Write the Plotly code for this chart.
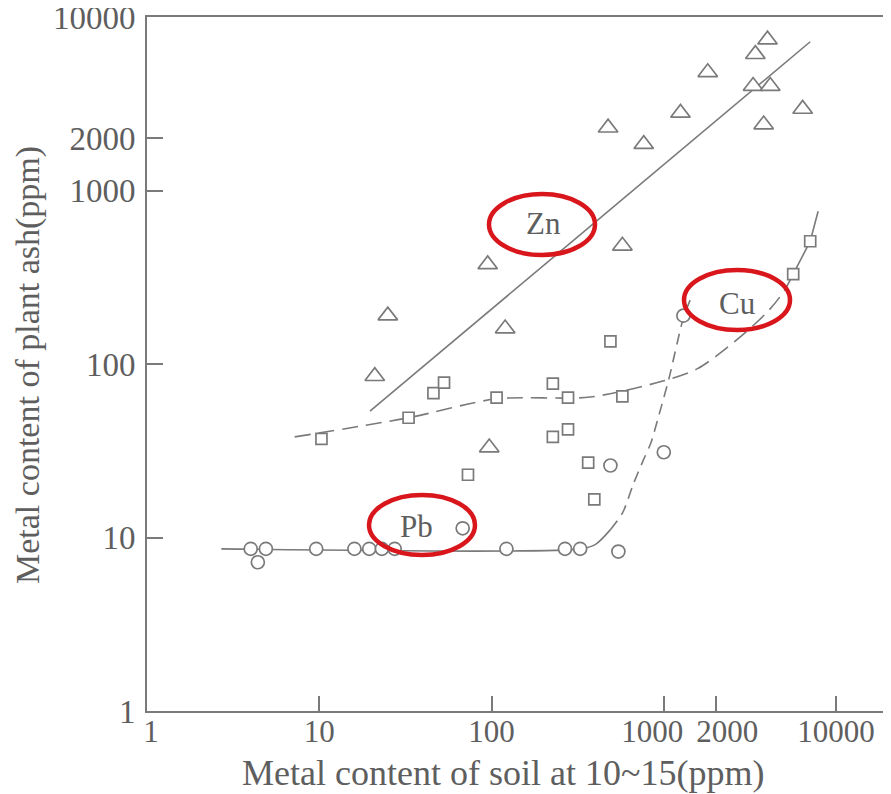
import plotly.graph_objects as go

# ---------------- data ----------------
zn_x = [21, 25, 95, 120, 97, 575, 475, 765, 1250, 1800, 3400, 4000, 3300, 4150, 3800, 6400]
zn_y = [85, 190, 375, 160, 33, 480, 2300, 1850, 2800, 4800, 6100, 7400, 4000, 4000, 2400, 2950]
zn_line_x = [19.7, 7080]
zn_line_y = [53.5, 7200]

cu_x = [10.3, 33, 46, 53, 107, 227, 278, 227, 278, 73, 364, 395, 490, 575, 5640, 7080]
cu_y = [37, 49, 68, 78, 64, 77, 64, 38, 42, 23, 27, 16.6, 135, 65, 330, 510]
cu_dash_x = [7.2, 33, 107, 374, 1000, 1570, 2680, 4000, 4950, 5640]
cu_dash_y = [38, 49, 63, 64.5, 80, 94, 139, 200, 260, 330]
cu_solid_x = [5640, 7080, 7870]
cu_solid_y = [330, 510, 760]

pb_x = [4.0, 4.9, 4.4, 9.6, 16, 19.5, 23.1, 27.4, 68, 122, 267, 327, 545, 490, 1000, 1300]
pb_y = [8.6, 8.6, 7.2, 8.6, 8.6, 8.6, 8.6, 8.6, 11.3, 8.6, 8.6, 8.6, 8.3, 26, 31, 190]
pb_solid_x = [2.7, 327, 400, 490]
pb_solid_y = [8.6, 8.6, 9.1, 11.1]
pb_dash_x = [490, 575, 668, 764, 840, 923, 1069, 1306, 1472]
pb_dash_y = [11.1, 13.8, 20.5, 28.2, 34.9, 48.1, 81.8, 187, 253]

x_tickvals = [1, 10, 100, 1000, 2000, 10000]
x_ticktext = ["1", "10", "100", "1000", "2000", "10000"]
y_tickvals = [1, 10, 100, 1000, 2000, 10000]
y_ticktext = ["1", "10", "100", "1000", "2000", "10000"]

labels = ["Zn", "Cu", "Pb"]
x_title = "Metal content of soil at 10~15(ppm)"
y_title = "Metal content of plant ash(ppm)"

# ---------------- styling ----------------
INK = "#7a7a7a"
TXT = "#5e5e5e"
RED = "#d8161c"
FONT = "Liberation Serif"
NB = "\u00a0"

# small horizontal nudges of the x tick labels, as in the printed figure
x_pad = {"1": (1, 0), "1000": (0, 3), "2000": (3, 0)}
x_ticktext_shown = [NB * x_pad.get(t, (0, 0))[0] + t + NB * x_pad.get(t, (0, 0))[1] for t in x_ticktext]

fig = go.Figure()

line_style = dict(color=INK, width=1.6)
fig.add_trace(go.Scatter(x=zn_line_x, y=zn_line_y, mode="lines", line=line_style, hoverinfo="skip"))
fig.add_trace(go.Scatter(x=cu_dash_x, y=cu_dash_y, mode="lines",
                         line=dict(color=INK, width=1.6, dash="16px,8px", shape="spline", smoothing=0.8),
                         hoverinfo="skip"))
fig.add_trace(go.Scatter(x=cu_solid_x, y=cu_solid_y, mode="lines", line=line_style, hoverinfo="skip"))
fig.add_trace(go.Scatter(x=pb_solid_x, y=pb_solid_y, mode="lines",
                         line=dict(color=INK, width=1.6, shape="spline", smoothing=0.8), hoverinfo="skip"))
fig.add_trace(go.Scatter(x=pb_dash_x, y=pb_dash_y, mode="lines",
                         line=dict(color=INK, width=1.6, dash="11px,7px", shape="spline", smoothing=0.8),
                         hoverinfo="skip"))

mk_line = dict(color=INK, width=1.7)
fig.add_trace(go.Scatter(x=zn_x, y=zn_y, mode="markers", name="Zn",
                         marker=dict(symbol="triangle-up", size=17, color="white", line=mk_line)))
fig.add_trace(go.Scatter(x=cu_x, y=cu_y, mode="markers", name="Cu",
                         marker=dict(symbol="square", size=11, color="white", line=mk_line)))
fig.add_trace(go.Scatter(x=pb_x, y=pb_y, mode="markers", name="Pb",
                         marker=dict(symbol="circle", size=13, color="white", line=mk_line)))

# The page body has an 8px margin; the plot area should sit at page pixels x 147..891, y 17..711
BODY = 8
def px(xp):
    return (xp - 147) / 744.0

def py(yp):
    return (711 - yp) / 694.0

ellipses = [
    (487, 597, 192, 257),
    (682, 792, 268, 332),
    (367, 477, 493, 557),
]
for (x0, x1, y0, y1) in ellipses:
    fig.add_shape(type="circle", xref="paper", yref="paper",
                  x0=px(x0 + 2), x1=px(x1 - 2), y0=py(y1 - 2), y1=py(y0 + 2),
                  line=dict(color=RED, width=4.5), layer="above")

label_pos = [(543, 223), (737, 303), (416, 526)]
for lab, (xx, yy) in zip(labels, label_pos):
    fig.add_annotation(xref="paper", yref="paper", x=px(xx), y=py(yy), text=lab,
                       showarrow=False, font=dict(family=FONT, size=31, color=TXT),
                       xanchor="center", yanchor="middle")

fig.add_annotation(xref="paper", yref="paper", x=px(503), y=py(773), text=x_title,
                   showarrow=False, font=dict(family=FONT, size=36, color=TXT),
                   xanchor="center", yanchor="middle")
fig.add_annotation(xref="paper", yref="paper", x=px(28), y=py(365), text=y_title,
                   showarrow=False, textangle=-90, font=dict(family=FONT, size=34, color=TXT),
                   xanchor="center", yanchor="middle")

fig.update_xaxes(type="log", range=[0, 4.319], tickmode="array",
                 tickvals=x_tickvals, ticktext=x_ticktext_shown, tickangle=0,
                 ticks="inside", ticklen=15, tickwidth=2, tickcolor=INK,
                 showline=True, linecolor=INK, linewidth=2, mirror=True,
                 showgrid=False, zeroline=False, automargin=False,
                 ticklabeloverflow="allow",
                 tickfont=dict(family=FONT, size=31, color=TXT), ticklabelstandoff=-8)
fig.update_yaxes(type="log", range=[0, 4], tickmode="array",
                 tickvals=y_tickvals, ticktext=y_ticktext,
                 ticks="inside", ticklen=16, tickwidth=2, tickcolor=INK,
                 showline=True, linecolor=INK, linewidth=2,
                 showgrid=False, zeroline=False, automargin=False,
                 ticklabeloverflow="allow",
                 tickfont=dict(family=FONT, size=33, color=TXT), ticklabelstandoff=3)

fig.update_layout(width=891 - BODY, height=794 - BODY, showlegend=False,
                  margin=dict(l=147 - BODY, r=0, t=17 - BODY, b=83),
                  paper_bgcolor="white", plot_bgcolor="white")

fig.write_html("out.html")
